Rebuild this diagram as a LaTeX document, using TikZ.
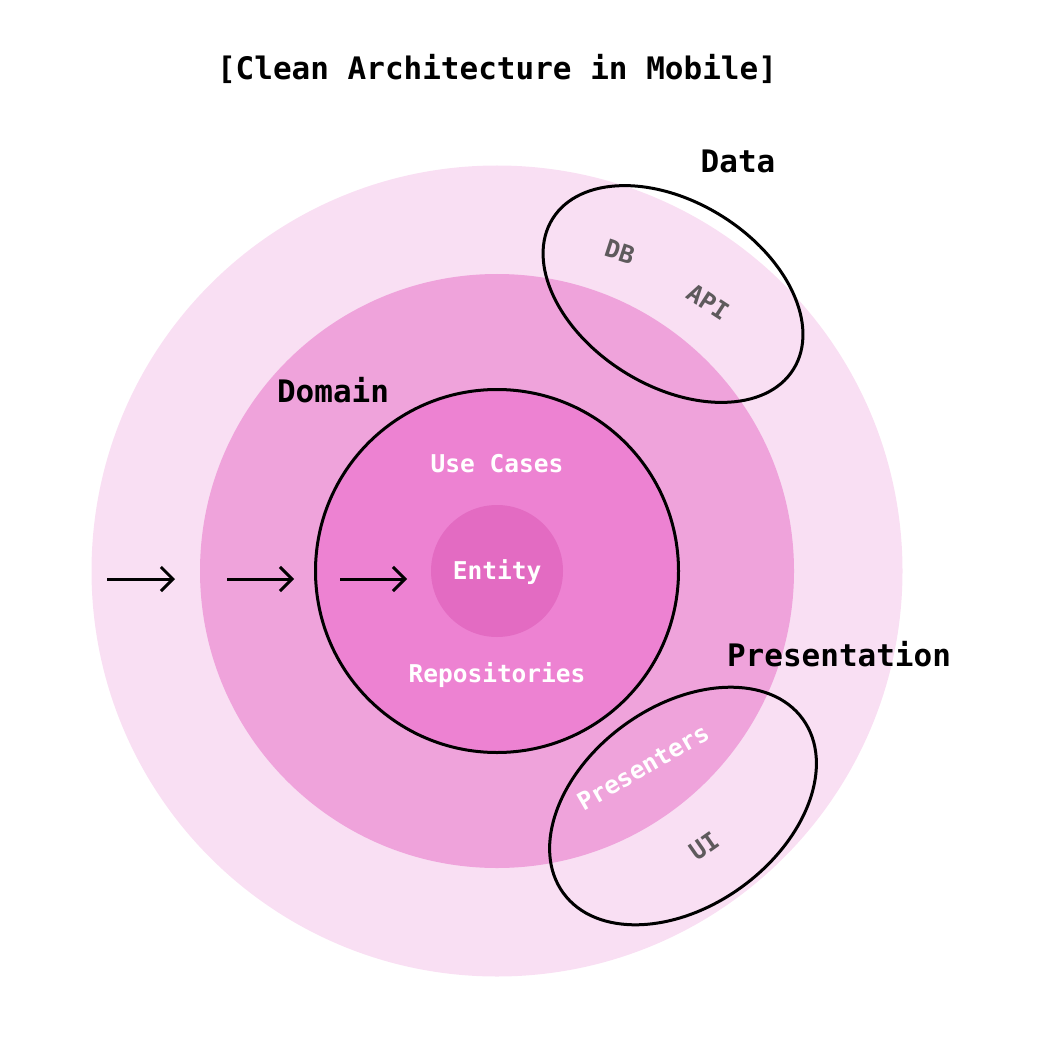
\documentclass[tikz,border=0pt]{standalone}
\usepackage{fontspec}
\setmonofont{DejaVu Sans Mono}
\usetikzlibrary{arrows.meta}
\definecolor{ringout}{HTML}{F9DFF3}
\definecolor{ringmid}{HTML}{EFA3DB}
\definecolor{ringin}{HTML}{ED82D2}
\definecolor{core}{HTML}{E36BC2}
\definecolor{dimtext}{HTML}{5E5A5C}

\begin{document}
\begin{tikzpicture}[x=1pt,y=-1pt,
    ring/.style={circle,inner sep=0pt,minimum size=#1},
    layer/.style={line width=3pt},
    big/.style={font=\fontsize{31}{31}\selectfont\ttfamily\bfseries},
    small/.style={font=\fontsize{24.5}{24.5}\selectfont\ttfamily\bfseries},
    flow/.style={line width=3pt,-{Straight Barb[length=12pt,width=24pt,line width=3pt]}}]
  \useasboundingbox (0,0) rectangle (1038,1048);
  % rings
  \node[ring=811pt,fill=ringout] (outer) at (497,571) {};
  \node[ring=594pt,fill=ringmid] (middle) at (497,571) {};
  \node[ring=363pt,fill=ringin,draw,line width=3pt] (domainring) at (497,571) {};
  \node[ring=132pt,fill=core] (entityring) at (497,571) {};
  % labels
  \node[big] (title) at (497,69) {[Clean Architecture in Mobile]};
  \node[big] (datalbl) at (738,161) {Data};
  \node[big] (domainlbl) at (333,390) {Domain};
  \node[big] (preslbl) at (839,654) {Presentation};
  \node[small,white] (usecases) at (497,464) {Use Cases};
  \node[small,white] (entity) at (497,572) {Entity};
  \node[small,white] (repos) at (497,675) {Repositories};
  % data and presentation layers
  \coordinate (datac) at (673,294);
  \coordinate (presc) at (683,806);
  \draw[layer,rotate around={-32:(datac)}] (datac) ellipse (142 and 92);
  \draw[layer,rotate around={36:(presc)}] (presc) ellipse (148 and 100);
  \node[small,dimtext,rotate=-18] (db) at (620,252) {DB};
  \node[small,dimtext,rotate=-33] (api) at (708,302) {API};
  \node[small,white,rotate=30] (presenters) at (643,767) {Presenters};
  \node[small,dimtext,rotate=35] (ui) at (704,846) {UI};
  % arrows
  \foreach \i/\xa/\xb in {1/107/175,2/227/294,3/340/407} {
    \coordinate (s\i) at (\xa,579);
    \coordinate (e\i) at (\xb,579);
    \draw[flow] (s\i) -- (e\i);
  }
\end{tikzpicture}
\end{document}
